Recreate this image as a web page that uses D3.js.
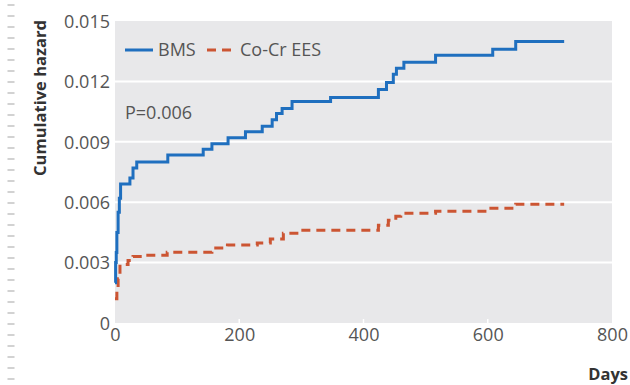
<!DOCTYPE html>
<html>
<head>
<meta charset="utf-8">
<script src="https://cdn.jsdelivr.net/npm/d3@7"></script>
<style>
  body { margin: 0; background: #fff; }
  svg { display: block; font-family: "Open Sans", sans-serif; }
</style>
</head>
<body>
<div id="chart"></div>
<script>
// cumulative hazard steps: [day, value]
const bmsSteps = [
  [0, 0.0020], [1, 0.0030], [2, 0.0035], [3, 0.0045], [5, 0.0055], [7, 0.0062], [9, 0.0069],
  [24, 0.0072], [29, 0.0077], [35, 0.0080], [85, 0.00835], [142, 0.00863], [156, 0.0089],
  [182, 0.0092], [210, 0.0095], [237, 0.00977], [253, 0.0101], [260, 0.0104], [269, 0.01066],
  [285, 0.0110], [347, 0.0112], [424, 0.0116], [437, 0.01195], [448, 0.01235], [453, 0.01265],
  [465, 0.01295], [516, 0.0133], [608, 0.0136], [645, 0.01398], [723, 0.01398]
];
const eesSteps = [
  [0, 0.0012], [3, 0.0017], [5, 0.0022], [8, 0.0029], [21, 0.0031], [29, 0.0033], [45, 0.00337],
  [84, 0.00352], [156, 0.00372], [181, 0.00387], [229, 0.00397], [250, 0.00417], [271, 0.00446],
  [298, 0.00461], [424, 0.00486], [440, 0.0051], [452, 0.0053], [460, 0.00545], [516, 0.00555],
  [600, 0.0057], [645, 0.0059], [723, 0.0059]
];
const yTicks = [0, 0.003, 0.006, 0.009, 0.012, 0.015];
const xTicks = [0, 200, 400, 600, 800];
const seriesNames = ["BMS", "Co-Cr EES"];

const width = 630, height = 385;
const margin = {top: 21, right: 18, bottom: 62, left: 115};

const svg = d3.select("#chart")
    .append("svg")
    .attr("width", width)
    .attr("height", height);

// ruler-like marks on the left page edge
svg.append("line")
    .attr("x1", 11).attr("x2", 11)
    .attr("y1", 4).attr("y2", height)
    .style("stroke", "#d2d2d2")
    .style("stroke-width", 7)
    .style("stroke-dasharray", "2,9");

const x = d3.scaleLinear()
    .domain([0, 800])
    .range([margin.left, width - margin.right]);
const y = d3.scaleLinear()
    .domain([0, 0.015])
    .range([height - margin.bottom, margin.top]);

// grey panel
svg.append("rect")
    .attr("x", x(0)).attr("y", y(0.015))
    .attr("width", x(800) - x(0))
    .attr("height", y(0) - y(0.015))
    .attr("fill", "#e8e8ea");

// white gridlines
svg.append("g")
    .selectAll("line")
    .data(yTicks.filter(d => d > 0 && d < 0.015))
    .join("line")
    .attr("x1", x(0)).attr("x2", x(800))
    .attr("y1", d => y(d)).attr("y2", d => y(d))
    .style("stroke", "#fff")
    .style("stroke-width", 2);

// little white ticks at the panel bottom
svg.append("g")
    .selectAll("line")
    .data(xTicks.filter(d => d > 0 && d < 800))
    .join("line")
    .attr("x1", d => x(d)).attr("x2", d => x(d))
    .attr("y1", y(0) - 4).attr("y2", y(0))
    .style("stroke", "#fff")
    .style("stroke-width", 1.5);

// axes (labels only)
const xAxis = d3.axisBottom(x).tickValues(xTicks).tickSize(0).tickPadding(5)
    .tickFormat(d3.format("d"));
const yAxis = d3.axisLeft(y).tickValues(yTicks).tickSize(0).tickPadding(5)
    .tickFormat(d => d === 0 ? "0" : d3.format(".3f")(d));

const xGroup = svg.append("g")
    .attr("transform", `translate(0,${y(0)})`)
    .call(xAxis);
const yGroup = svg.append("g")
    .attr("transform", `translate(${x(0)},0)`)
    .call(yAxis);

[xGroup, yGroup].forEach(g => {
    g.select(".domain").remove();
    g.selectAll("text")
        .style("font-family", "'Open Sans', sans-serif")
        .style("font-size", "18px")
        .style("fill", "#555");
});
yGroup.selectAll("text").attr("dy", "0.35em");

// step lines
const line = d3.line()
    .curve(d3.curveStepAfter)
    .x(d => x(d[0]))
    .y(d => y(d[1]));

svg.append("path")
    .datum(eesSteps)
    .attr("d", line)
    .style("fill", "none")
    .style("stroke", "#cc5533")
    .style("stroke-width", 3)
    .style("stroke-dasharray", "9,6");

svg.append("path")
    .datum(bmsSteps)
    .attr("d", line)
    .style("fill", "none")
    .style("stroke", "#1f6fbf")
    .style("stroke-width", 3);

// legend
const legend = svg.append("g").attr("transform", "translate(125,50)");
legend.append("line")
    .attr("x1", 0).attr("x2", 28).attr("y1", 0).attr("y2", 0)
    .style("stroke", "#1f6fbf").style("stroke-width", 3);
legend.append("text")
    .attr("x", 33).attr("dy", "0.35em")
    .style("font-size", "18px").style("fill", "#555")
    .text(seriesNames[0]);
legend.append("line")
    .attr("x1", 82).attr("x2", 112).attr("y1", 0).attr("y2", 0)
    .style("stroke", "#cc5533").style("stroke-width", 3)
    .style("stroke-dasharray", "9,6");
legend.append("text")
    .attr("x", 115).attr("dy", "0.35em")
    .style("font-size", "18px").style("fill", "#555")
    .text(seriesNames[1]);

svg.append("text")
    .attr("x", 125).attr("y", 113)
    .attr("dy", "0.35em")
    .style("font-size", "18px").style("fill", "#555")
    .text("P=0.006");

// axis titles
svg.append("text")
    .attr("transform", "translate(40,98) rotate(-90)")
    .attr("text-anchor", "middle")
    .attr("dy", "0.35em")
    .style("font-size", "16.5px").style("font-weight", "bold").style("fill", "#333")
    .text("Cumulative hazard");

svg.append("text")
    .attr("x", 628).attr("y", 374)
    .attr("text-anchor", "end")
    .attr("dy", "0.35em")
    .style("font-size", "16.5px").style("font-weight", "bold").style("fill", "#333")
    .text("Days");
</script>
</body>
</html>
